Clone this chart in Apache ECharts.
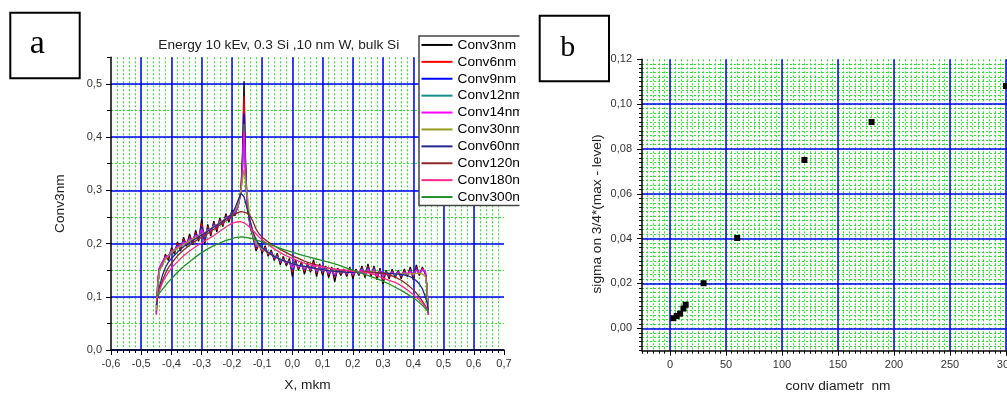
<!DOCTYPE html>
<html><head><meta charset="utf-8">
<script src="https://cdn.jsdelivr.net/npm/echarts@6/dist/echarts.min.js"></script>
<style>html,body{margin:0;padding:0;background:#fff}#c{width:1007px;height:394px}</style>
</head><body><div id="c"></div>
<script>
// ---------- Panel a data ----------
const X_FINE = [
 -0.45,-0.445,-0.44,-0.43,-0.42,-0.41,-0.40,-0.39,-0.38,-0.37,
 -0.36,-0.35,-0.34,-0.33,-0.32,-0.31,-0.30,-0.29,-0.28,-0.27,
 -0.26,-0.25,-0.24,-0.23,-0.22,-0.21,-0.20,-0.19,-0.18,-0.17,
 -0.165,-0.16,-0.155,-0.15,-0.14,-0.13,-0.12,-0.11,-0.10,-0.09,
 -0.08,-0.07,-0.06,-0.05,-0.04,-0.03,-0.02,-0.01,0.00,0.01,
 0.02,0.03,0.04,0.05,0.06,0.07,0.08,0.09,0.10,0.11,
 0.12,0.13,0.14,0.15,0.16,0.17,0.18,0.19,0.20,0.21,
 0.22,0.23,0.24,0.25,0.26,0.27,0.28,0.29,0.30,0.31,
 0.32,0.33,0.34,0.35,0.36,0.37,0.38,0.39,0.40,0.41,
 0.42,0.43,0.44,0.445,0.45];
const CONV3 = [
 0.068,0.12,0.152,0.158,0.180,0.168,0.192,0.180,0.203,0.186,
 0.212,0.195,0.218,0.198,0.225,0.204,0.246,0.198,0.236,0.214,
 0.242,0.222,0.248,0.232,0.256,0.240,0.262,0.252,0.272,0.300,
 0.37,0.505,0.36,0.28,0.232,0.212,0.186,0.200,0.182,0.196,
 0.176,0.188,0.168,0.182,0.160,0.176,0.158,0.172,0.138,0.170,
 0.150,0.166,0.142,0.164,0.146,0.170,0.138,0.162,0.140,0.158,
 0.136,0.156,0.128,0.154,0.140,0.152,0.138,0.156,0.134,0.152,
 0.140,0.158,0.136,0.162,0.138,0.158,0.132,0.154,0.124,0.150,
 0.134,0.152,0.136,0.150,0.134,0.152,0.138,0.156,0.132,0.160,
 0.140,0.156,0.142,0.12,0.066];
const CONV6 = [
 0.072,0.125,0.152,0.162,0.177,0.172,0.189,0.184,0.200,0.190,
 0.208,0.198,0.214,0.202,0.221,0.207,0.238,0.205,0.232,0.218,
 0.239,0.226,0.245,0.235,0.253,0.244,0.260,0.255,0.270,0.300,
 0.36,0.478,0.35,0.28,0.234,0.213,0.190,0.198,0.185,0.193,
 0.179,0.185,0.171,0.179,0.164,0.173,0.161,0.169,0.146,0.166,
 0.153,0.163,0.148,0.161,0.149,0.165,0.144,0.159,0.145,0.156,
 0.141,0.154,0.136,0.152,0.143,0.150,0.141,0.153,0.139,0.150,
 0.142,0.155,0.140,0.158,0.141,0.155,0.137,0.151,0.132,0.148,
 0.137,0.149,0.139,0.148,0.137,0.149,0.140,0.152,0.137,0.156,
 0.142,0.154,0.145,0.12,0.068];
const CONV9 = [
 0.078,0.128,0.153,0.164,0.175,0.175,0.187,0.186,0.197,0.193,
 0.205,0.200,0.211,0.205,0.218,0.210,0.232,0.209,0.229,0.221,
 0.237,0.229,0.243,0.237,0.251,0.246,0.259,0.257,0.269,0.298,
 0.35,0.445,0.34,0.278,0.235,0.214,0.193,0.196,0.187,0.191,
 0.181,0.183,0.173,0.177,0.166,0.171,0.163,0.167,0.150,0.164,
 0.155,0.161,0.151,0.159,0.151,0.162,0.147,0.157,0.147,0.154,
 0.143,0.152,0.139,0.151,0.145,0.149,0.143,0.151,0.141,0.149,
 0.143,0.153,0.142,0.155,0.143,0.153,0.139,0.150,0.136,0.147,
 0.139,0.147,0.140,0.147,0.139,0.147,0.141,0.150,0.139,0.153,
 0.143,0.152,0.146,0.12,0.070];
const CONV12 = [
 0.082,0.132,0.154,0.165,0.174,0.177,0.186,0.188,0.195,0.195,
 0.203,0.201,0.209,0.207,0.216,0.212,0.228,0.212,0.227,0.223,
 0.235,0.231,0.242,0.238,0.250,0.247,0.258,0.258,0.268,0.296,
 0.34,0.425,0.335,0.276,0.235,0.214,0.195,0.195,0.188,0.190,
 0.182,0.182,0.174,0.176,0.167,0.170,0.164,0.166,0.153,0.163,
 0.156,0.160,0.152,0.158,0.152,0.160,0.148,0.156,0.148,0.153,
 0.144,0.151,0.141,0.150,0.146,0.149,0.144,0.150,0.142,0.148,
 0.144,0.152,0.143,0.153,0.144,0.152,0.140,0.149,0.138,0.146,
 0.140,0.146,0.141,0.146,0.140,0.146,0.142,0.149,0.140,0.151,
 0.144,0.150,0.146,0.12,0.070];
const CONV14 = [
 0.066,0.135,0.155,0.166,0.174,0.178,0.185,0.189,0.194,0.196,
 0.202,0.202,0.208,0.208,0.215,0.213,0.226,0.214,0.226,0.224,
 0.234,0.232,0.241,0.239,0.249,0.248,0.257,0.259,0.268,0.297,
 0.34,0.41,0.33,0.276,0.236,0.215,0.196,0.195,0.188,0.189,
 0.182,0.181,0.175,0.175,0.168,0.169,0.164,0.165,0.155,0.162,
 0.156,0.159,0.153,0.157,0.152,0.159,0.149,0.155,0.149,0.152,
 0.145,0.150,0.142,0.149,0.146,0.148,0.144,0.149,0.143,0.148,
 0.145,0.151,0.144,0.152,0.144,0.151,0.141,0.148,0.139,0.146,
 0.141,0.146,0.142,0.146,0.141,0.146,0.142,0.148,0.141,0.150,
 0.145,0.152,0.148,0.12,0.066];

const X_SMOOTH = [
 -0.45,-0.445,-0.44,-0.43,-0.42,-0.41,-0.40,-0.38,-0.36,-0.34,
 -0.32,-0.30,-0.28,-0.26,-0.24,-0.22,-0.20,-0.19,-0.18,-0.17,
 -0.16,-0.15,-0.14,-0.13,-0.12,-0.11,-0.10,-0.08,-0.06,-0.04,
 -0.02,0.00,0.02,0.04,0.06,0.08,0.10,0.12,0.14,0.16,
 0.18,0.20,0.22,0.24,0.26,0.28,0.30,0.32,0.34,0.36,
 0.38,0.40,0.41,0.42,0.43,0.44,0.445,0.45];
const CONV30 = [
 0.075,0.12,0.148,0.160,0.170,0.177,0.183,0.191,0.198,0.205,
 0.211,0.218,0.224,0.232,0.239,0.247,0.256,0.262,0.272,0.300,
 0.340,0.295,0.245,0.215,0.200,0.194,0.190,0.182,0.176,0.170,
 0.166,0.162,0.159,0.157,0.155,0.153,0.151,0.149,0.148,0.147,
 0.146,0.146,0.146,0.147,0.147,0.146,0.145,0.144,0.143,0.143,
 0.143,0.143,0.144,0.144,0.143,0.138,0.12,0.072];
const CONV60 = [
 0.085,0.10,0.118,0.140,0.155,0.165,0.172,0.184,0.194,0.202,
 0.209,0.216,0.223,0.231,0.238,0.246,0.256,0.266,0.281,0.294,
 0.288,0.266,0.243,0.222,0.207,0.198,0.192,0.183,0.176,0.170,
 0.166,0.162,0.159,0.157,0.155,0.153,0.151,0.149,0.148,0.147,
 0.146,0.146,0.146,0.146,0.146,0.145,0.145,0.144,0.143,0.142,
 0.140,0.135,0.130,0.124,0.115,0.10,0.09,0.072];
const CONV120 = [
 0.090,0.100,0.112,0.130,0.144,0.155,0.163,0.177,0.188,0.197,
 0.205,0.212,0.219,0.227,0.235,0.243,0.251,0.255,0.258,0.260,
 0.259,0.257,0.252,0.241,0.227,0.218,0.212,0.203,0.196,0.189,
 0.183,0.177,0.172,0.167,0.163,0.160,0.157,0.154,0.152,0.150,
 0.149,0.148,0.147,0.147,0.146,0.145,0.144,0.141,0.137,0.131,
 0.123,0.113,0.107,0.100,0.092,0.083,0.078,0.072];
const CONV180 = [
 0.092,0.103,0.112,0.126,0.137,0.146,0.154,0.166,0.177,0.186,
 0.194,0.201,0.208,0.215,0.223,0.231,0.238,0.240,0.241,0.241,
 0.239,0.235,0.230,0.224,0.218,0.212,0.207,0.198,0.190,0.183,
 0.177,0.172,0.167,0.163,0.160,0.158,0.156,0.154,0.152,0.151,
 0.150,0.148,0.147,0.146,0.144,0.140,0.135,0.131,0.127,0.121,
 0.113,0.104,0.099,0.094,0.088,0.081,0.077,0.072];
const CONV300 = [
 0.100,0.103,0.107,0.114,0.121,0.128,0.134,0.146,0.157,0.166,
 0.175,0.183,0.190,0.196,0.201,0.206,0.209,0.211,0.212,0.2125,
 0.212,0.211,0.210,0.209,0.207,0.205,0.203,0.199,0.195,0.191,
 0.187,0.184,0.180,0.177,0.174,0.171,0.168,0.165,0.162,0.158,
 0.154,0.150,0.146,0.142,0.138,0.134,0.129,0.124,0.118,0.112,
 0.105,0.098,0.094,0.089,0.084,0.078,0.075,0.072];

const SERIES_NAMES = ['Conv3nm','Conv6nm','Conv9nm','Conv12nm','Conv14nm','Conv30nm','Conv60nm','Conv120nm','Conv180nm','Conv300nm'];
const LEFT_X_TICKS = [-0.6,-0.5,-0.4,-0.3,-0.2,-0.1,0.0,0.1,0.2,0.3,0.4,0.5,0.6,0.7];
const LEFT_Y_TICKS = [0.0,0.1,0.2,0.3,0.4,0.5];

// ---------- Panel b data ----------
const DIAMETER = [3,6,9,12,14,30,60,120,180,300];
const SIGMA = [0.0045,0.0055,0.0065,0.0088,0.0105,0.0201,0.0403,0.0751,0.0920,0.1081];
const RIGHT_X_TICKS = [0,50,100,150,200,250,300];
const RIGHT_Y_TICKS = [0.00,0.02,0.04,0.06,0.08,0.10,0.12];

// ---------- build ----------
const FONT = "'Liberation Sans', Arial, sans-serif";
const COLORS = ['#000000','#ff0000','#0000ff','#15908f','#ff00ff','#9a9a22','#26268f','#8f2626','#ff2a8e','#24902a'];
const SERIES_DATA = [
  [X_FINE, CONV3],[X_FINE, CONV6],[X_FINE, CONV9],[X_FINE, CONV12],[X_FINE, CONV14],
  [X_SMOOTH, CONV30],[X_SMOOTH, CONV60],[X_SMOOTH, CONV120],[X_SMOOTH, CONV180],[X_SMOOTH, CONV300]];

const comma = (v, d) => { if (Math.abs(v) < 1e-9) v = 0; return v.toFixed(d).replace('.', ','); };
const majorGrid = () => ({color:'#0000ff', width:1.5, type:'solid', opacity:1});
const minorGrid = () => ({color:'#25e825', width:1, type:[2,2], opacity:1});
const axLine = () => ({color:'#000', width:1.5});
const label = (extra) => Object.assign({fontFamily: FONT, fontSize: 11, color:'#333'}, extra);
const nameStyle = (extra) => Object.assign({fontFamily: FONT, fontSize: 13.7, color:'#222'}, extra || {});

function minorAxis(grid, pos, min, max, interval, tickLen) {
  return {gridIndex: grid, type:'value', position: pos, min, max, interval, z: 0,
    axisLine:{show:false, onZero:false}, axisTick:{show:true, length: tickLen, lineStyle:{color:'#000', width:1}},
    axisLabel:{show:false},
    splitLine:{show:true, lineStyle: minorGrid(), showMinLine:false, showMaxLine:false},
    splitArea:{show:false}};
}

const series = SERIES_NAMES.map((n, i) => ({
  type:'line', name:n, xAxisIndex:1, yAxisIndex:1,
  data: SERIES_DATA[i][0].map((x, k) => [x, SERIES_DATA[i][1][k]]),
  symbol:'none', showSymbol:false, smooth:false,
  lineStyle:{width:1.3, color: COLORS[i]}, itemStyle:{color: COLORS[i]}, z: 3
}));
series.push({
  type:'scatter', name:'sigma', xAxisIndex:3, yAxisIndex:3,
  data: DIAMETER.map((d, k) => [d, SIGMA[k]]),
  symbol:'rect', symbolSize:6, itemStyle:{color:'#000', opacity:1}, z: 3
});

const option = {
  animation:false,
  backgroundColor:'#fff',
  title:{text:'Energy 10 kEv, 0.3 Si ,10 nm W, bulk Si', left:278.8, top:38, textAlign:'center', padding:0,
    textStyle:{fontFamily:FONT, fontSize:13.7, fontWeight:'normal', color:'#222'}},
  legend:{data:SERIES_NAMES, orient:'vertical', left:419, top:36, padding:[0.5,0,0,2.5], itemGap:0,
    itemWidth:31, itemHeight:2, icon:'rect', borderColor:'#444', borderWidth:1.5, backgroundColor:'#fff',
    textStyle:{fontFamily:FONT, fontSize:13.7, lineHeight:16.9, color:'#000'}, selectedMode:false},
  grid:[
    {left:111, top:57.3, width:393, height:292.7, outerBoundsMode:'none', containLabel:false},
    {left:642, top:59.3, width:392, height:291.4, outerBoundsMode:'none', containLabel:false}
  ],
  xAxis:[
    minorAxis(0, 'bottom', -0.6, 0.7, 0.02, 3),
    {gridIndex:0, type:'value', position:'bottom', min:-0.6, max:0.7, interval:0.1, z:1,
      axisLine:{onZero:false, lineStyle:axLine()},
      axisTick:{length:5, customValues:LEFT_X_TICKS, lineStyle:{color:'#000', width:1}},
      axisLabel:label({customValues:LEFT_X_TICKS, margin:8, formatter:v=>comma(v,1)}),
      splitLine:{show:true, lineStyle:majorGrid(), showMinLine:false, showMaxLine:false},
      name:'X, mkm', nameLocation:'middle', nameGap:28, nameTextStyle:nameStyle()},
    minorAxis(1, 'bottom', -25, 325, 5, 3),
    {gridIndex:1, type:'value', position:'bottom', min:-25, max:325, splitNumber:7, z:1,
      axisLine:{onZero:false, lineStyle:axLine()},
      axisTick:{length:5, customValues:RIGHT_X_TICKS, lineStyle:{color:'#000', width:1}},
      axisLabel:label({customValues:RIGHT_X_TICKS, margin:9, formatter:v=>String(Math.round(v))}),
      splitLine:{show:true, lineStyle:majorGrid()},
      name:'conv diametr  nm', nameLocation:'middle', nameGap:29, nameTextStyle:nameStyle()}
  ],
  yAxis:[
    minorAxis(0, 'left', 0, 0.55, 0.05, 4),
    {gridIndex:0, type:'value', position:'left', min:0, max:0.55, interval:0.1, z:1,
      axisLine:{onZero:false, lineStyle:axLine()},
      axisTick:{length:5, customValues:LEFT_Y_TICKS, lineStyle:{color:'#000', width:1}},
      axisLabel:label({customValues:LEFT_Y_TICKS, margin:9, formatter:v=>comma(v,1)}),
      splitLine:{show:true, lineStyle:majorGrid()}, splitArea:{show:false},
      name:'Conv3nm', nameLocation:'middle', nameGap:44, nameTextStyle:nameStyle()},
    minorAxis(1, 'left', -0.01, 0.12, 0.002, 3),
    {gridIndex:1, type:'value', position:'left', min:-0.01, max:0.12, splitNumber:6, z:1,
      axisLine:{onZero:false, lineStyle:axLine()},
      axisTick:{length:5, customValues:RIGHT_Y_TICKS, lineStyle:{color:'#000', width:1}},
      axisLabel:label({customValues:RIGHT_Y_TICKS, margin:10, formatter:v=>comma(v,2)}),
      splitLine:{show:true, lineStyle:majorGrid(), showMaxLine:false}, splitArea:{show:false},
      name:'sigma on 3/4*(max - level)', nameLocation:'middle', nameGap:38,
      nameTextStyle:nameStyle({padding:[0,18,0,0]})}
  ],
  graphic:[
    {type:'rect', shape:{x:10.3, y:12.7, width:69.4, height:65.6}, style:{fill:'#fff', stroke:'#000', lineWidth:2}, z:50},
    {type:'text', x:37.3, y:44.3, style:{text:'a', font:"34px 'Liberation Serif', 'Times New Roman', serif", fill:'#000', textAlign:'center', textVerticalAlign:'middle'}, z:51},
    {type:'rect', shape:{x:539.7, y:15.7, width:69.3, height:65.6}, style:{fill:'#fff', stroke:'#000', lineWidth:2}, z:50},
    {type:'text', x:567.8, y:47.7, style:{text:'b', font:"30px 'Liberation Serif', 'Times New Roman', serif", fill:'#000', textAlign:'center', textVerticalAlign:'middle'}, z:51},
    {type:'rect', shape:{x:519.5, y:28, width:18, height:186}, style:{fill:'#fff'}, z:100}
  ],
  series
};
const chart = echarts.init(document.getElementById('c'), null, {renderer:'canvas'});
chart.setOption(option);
</script></body></html>
